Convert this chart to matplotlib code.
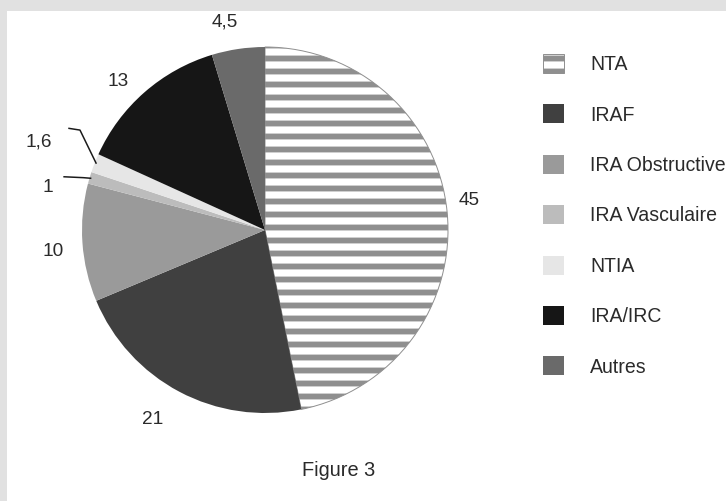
import numpy as np
import matplotlib
matplotlib.use('Agg')
import matplotlib.pyplot as plt
from matplotlib.patches import Rectangle

# Data
categories = ['NTA', 'IRAF', 'IRA Obstructive', 'IRA Vasculaire', 'NTIA', 'IRA/IRC', 'Autres']
values = [45, 21, 10, 1, 1.6, 13, 4.5]
colors = ['white', '#404040', '#9a9a9a', '#bcbcbc', '#e6e6e6', '#161616', '#6a6a6a']

plt.rcParams['font.family'] = ['Liberation Sans', 'DejaVu Sans']
plt.rcParams['hatch.linewidth'] = 5.4
plt.rcParams['text.color'] = '#2a2a2a'

DPI = 78  # 78/6 -> 13 px stripe period for the '-' hatch
W, H = 726, 501
fig = plt.figure(figsize=(W / DPI, H / DPI), dpi=DPI, facecolor='#e1e1e1')
fig.patches.append(Rectangle((7 / W, 0), 1 - 7 / W, 1 - 11 / H, transform=fig.transFigure,
                             facecolor='white', edgecolor='none', zorder=-5))

# pie centre at (265, 230) px, radius 183 px
R = 183.0
lim = 1.45
cx, cy = 265, H - 230
half = lim * R
ax = fig.add_axes([(cx - half) / W, (cy - half) / H, 2 * half / W, 2 * half / H])

wedges, _ = ax.pie(values, labels=categories, labeldistance=None, colors=colors,
                   startangle=90, counterclock=False, radius=1,
                   wedgeprops=dict(linewidth=0))
wedges[0].set_hatch('-')
wedges[0].set_edgecolor('#8f8f8f')
wedges[0].set_linewidth(0.9)
ax.set_xlim(-lim, lim)
ax.set_ylim(-lim, lim)
ax.set_aspect('equal')
ax.axis('off')

# value labels (French decimal comma)
label_pos = [(1.115, 0.160), (-0.612, -1.033), (-1.158, -0.120), (-1.186, 0.230),
             (-1.235, 0.481), (-0.803, 0.809), (-0.219, 1.137)]
for v, (x, y) in zip(values, label_pos):
    ax.text(x, y, '{:g}'.format(v).replace('.', ','), fontsize=17.5,
            ha='center', va='center')

# leader lines for the two small slices
leaders = {3: [(-1.102, 0.291), (-0.993, 0.286)],
           4: [(-1.075, 0.556), (-1.011, 0.546)]}
for i, pts in leaders.items():
    w = wedges[i]
    mid = np.deg2rad((w.theta1 + w.theta2) / 2)
    end = (0.99 * np.cos(mid), 0.99 * np.sin(mid))
    xs = [p[0] for p in pts] + [end[0]]
    ys = [p[1] for p in pts] + [end[1]]
    ax.plot(xs, ys, color='#1a1a1a', lw=1.4, solid_capstyle='butt')

fig.legend(handles=wedges, labels=categories, loc='upper left',
           bbox_to_anchor=(543 / W, 1 - 54 / H), bbox_transform=fig.transFigure,
           frameon=False, fontsize=18, borderpad=0, borderaxespad=0,
           handlelength=1.08, handleheight=1.13, handletextpad=1.33,
           labelspacing=1.55)

fig.text(339 / W, 1 - 471 / H, 'Figure 3', fontsize=18.5, ha='center', va='center')

fig.savefig('out.png', dpi=DPI, facecolor=fig.get_facecolor())
